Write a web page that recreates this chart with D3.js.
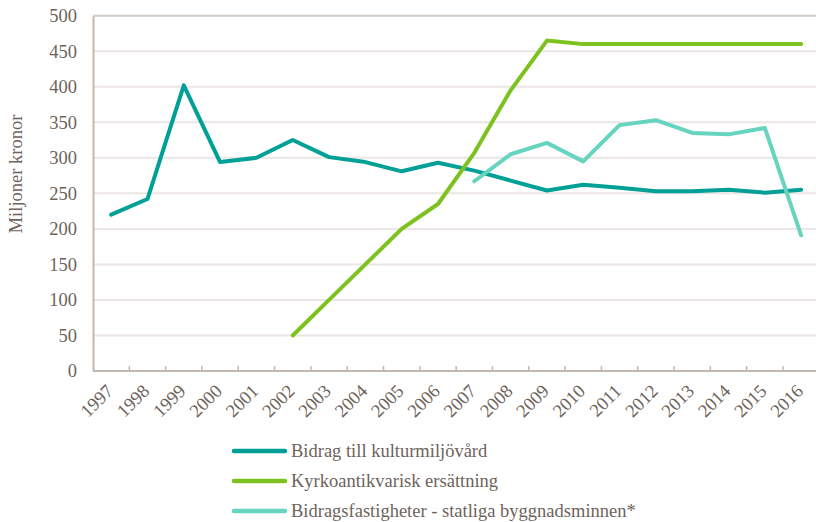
<!DOCTYPE html>
<html>
<head>
<meta charset="utf-8">
<script src="https://cdn.jsdelivr.net/npm/d3@7"></script>
<style>
  html, body { margin: 0; padding: 0; background: #ffffff; }
  svg { display: block; }
  svg text { font-family: "Liberation Serif", "Times New Roman", serif; fill: #6e635b; }
</style>
</head>
<body>
<svg id="chart" width="816" height="522" font-family="Liberation Serif"></svg>
<script>
// Years on the category axis
const years = ["1997","1998","1999","2000","2001","2002","2003","2004","2005","2006",
               "2007","2008","2009","2010","2011","2012","2013","2014","2015","2016"];

// Series values, miljoner kronor (null = no value that year)
const bidragKulturmiljovard = [220, 242, 402, 294, 300, 325, 301, 294, 281, 293,
                               282, 268, 254, 262, 258, 253, 253, 255, 251, 255];
const kyrkoantikvariskErsattning = [null, null, null, null, null, 50, 100, 150, 200, 235,
                                    307, 395, 465, 460, 460, 460, 460, 460, 460, 460];
const bidragsfastigheter = [null, null, null, null, null, null, null, null, null, null,
                            267, 305, 321, 295, 346, 353, 335, 333, 342, 191];

const yTicks = [0, 50, 100, 150, 200, 250, 300, 350, 400, 450, 500];
const seriesNames = ["Bidrag till kulturmiljövård", "Kyrkoantikvarisk ersättning",
                     "Bidragsfastigheter - statliga byggnadsminnen*"];

const series = [
  { name: seriesNames[0], values: bidragKulturmiljovard, color: "#00a096" },
  { name: seriesNames[1], values: kyrkoantikvariskErsattning, color: "#7dc21e" },
  { name: seriesNames[2], values: bidragsfastigheter, color: "#66d4bf" }
];

const FONT_SIZE = "18.5px";
const svg = d3.select("#chart");
const plot = { left: 93, right: 819.3, top: 15.7, bottom: 371 };

const x = d3.scaleBand().domain(years).range([plot.left, plot.right]).padding(0);
const y = d3.scaleLinear().domain([0, 500]).range([plot.bottom, plot.top]);

// Horizontal gridlines
svg.append("g")
  .selectAll("line")
  .data(yTicks.filter(t => t > 0))
  .join("line")
  .attr("x1", plot.left).attr("x2", 816)
  .attr("y1", d => y(d)).attr("y2", d => y(d))
  .attr("stroke", d => d === 500 ? "#d3cbc5" : "#ebe6e4")
  .attr("stroke-width", 2);

// Y axis
const yAxis = svg.append("g")
  .attr("transform", `translate(${plot.left},0)`)
  .call(d3.axisLeft(y).tickValues(yTicks).tickSize(0).tickPadding(16))
  .attr("font-family", null)
  .attr("font-size", null);
yAxis.select(".domain").attr("stroke", "#c2b8b0").attr("stroke-width", 2);
yAxis.selectAll("text")
  .style("font-size", FONT_SIZE)
  .style("fill", "#6e635b");

// X axis: ticks between categories, drawn upward
const xAxisG = svg.append("g").attr("transform", `translate(0,${plot.bottom})`);
xAxisG.append("line")
  .attr("x1", plot.left).attr("x2", 816)
  .attr("y1", 0).attr("y2", 0)
  .attr("stroke", "#c2b8b0").attr("stroke-width", 2);
xAxisG.selectAll("line.tick")
  .data(years.slice(1))
  .join("line")
  .attr("class", "tick")
  .attr("x1", d => x(d)).attr("x2", d => x(d))
  .attr("y1", 0).attr("y2", -5)
  .attr("stroke", "#c2b8b0").attr("stroke-width", 1.5);
xAxisG.selectAll("text")
  .data(years)
  .join("text")
  .attr("transform", d => `translate(${x(d) + x.bandwidth() / 2 - 1.5},${16.5}) rotate(-45)`)
  .attr("text-anchor", "end")
  .attr("dy", "0.35em")
  .style("font-size", FONT_SIZE)
  .text(d => d);

// Y axis title
svg.append("text")
  .attr("transform", `translate(22,174) rotate(-90)`)
  .attr("text-anchor", "middle")
  .style("font-size", FONT_SIZE)
  .text("Miljoner kronor");

// Lines
const line = d3.line()
  .defined(d => d.v !== null)
  .x(d => x(d.year) + x.bandwidth() / 2)
  .y(d => y(d.v));

svg.append("g")
  .selectAll("path")
  .data(series)
  .join("path")
  .attr("fill", "none")
  .attr("stroke", d => d.color)
  .attr("stroke-width", 4)
  .attr("stroke-linejoin", "round")
  .attr("stroke-linecap", "round")
  .attr("d", d => line(d.values.map((v, i) => ({ year: years[i], v }))));

// Legend
const legend = svg.append("g")
  .selectAll("g")
  .data(series)
  .join("g")
  .attr("transform", (d, i) => `translate(234,${451 + i * 30})`);
legend.append("line")
  .attr("x1", 0).attr("x2", 51)
  .attr("y1", 0).attr("y2", 0)
  .attr("stroke", d => d.color)
  .attr("stroke-width", 4.5)
  .attr("stroke-linecap", "round");
legend.append("text")
  .attr("x", 57)
  .attr("y", 0)
  .attr("dy", "0.33em")
  .style("font-size", FONT_SIZE)
  .text(d => d.name);
</script>
</body>
</html>
